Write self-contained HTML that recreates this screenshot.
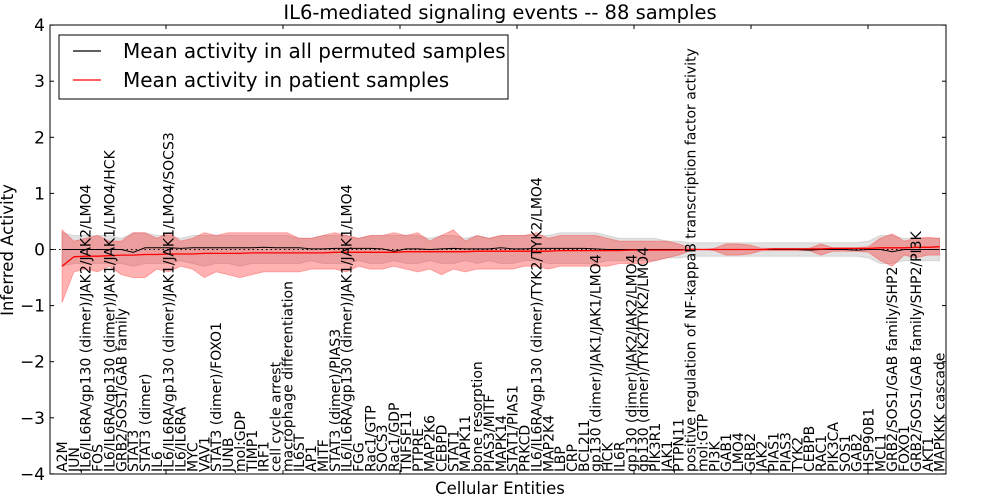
<!DOCTYPE html>
<html><head><meta charset="utf-8">
<style>
html,body{margin:0;padding:0;background:#fff;}
svg{display:block;font-family:"DejaVu Sans","Liberation Sans",sans-serif;}
</style></head>
<body>
<svg id="chart" width="1000" height="500" viewBox="0 0 1000 500" xmlns="http://www.w3.org/2000/svg">
<rect x="0" y="0" width="1000" height="500" fill="#fff"/>
<text x="500" y="19" font-size="19.5" text-anchor="middle">IL6-mediated signaling events -- 88 samples</text>
<g id="bands"></g>
<g id="lines"></g>
<g id="xlabels"></g>
<g id="ticks"></g>
<rect x="50" y="25" width="896" height="449" fill="none" stroke="#000" stroke-width="1"/>
<text transform="translate(13,250) rotate(-90)" font-size="16.5" text-anchor="middle">Inferred Activity</text>
<text x="500" y="494" font-size="16.5" text-anchor="middle">Cellular Entities</text>
<g>
<rect x="59" y="35" width="449" height="64" fill="#fff" stroke="#000" stroke-width="1"/>
<line x1="73" y1="51" x2="101" y2="51" stroke="#000" stroke-width="1.3"/>
<text x="123" y="58" font-size="20">Mean activity in all permuted samples</text>
<line x1="73" y1="80" x2="101" y2="80" stroke="#f00" stroke-width="1.3"/>
<text x="123" y="87" font-size="20">Mean activity in patient samples</text>
</g>
</svg>
<script>
const categories = ["A2M","JUN","IL6/IL6RA/gp130 (dimer)/JAK2/JAK2/LMO4","FOS","IL6/IL6RA/gp130 (dimer)/JAK1/JAK1/LMO4/HCK","GRB2/SOS1/GAB family","STAT3","STAT3 (dimer)","IL6","IL6/IL6RA/gp130 (dimer)/JAK1/JAK1/LMO4/SOCS3","IL6/IL6RA","MYC","VAV1","STAT3 (dimer)/FOXO1","JUNB","mol:GDP","TIMP1","IRF1","cell cycle arrest","macrophage differentiation","IL6ST","AP1","MITF","STAT3 (dimer)/PIAS3","IL6/IL6RA/gp130 (dimer)/JAK1/JAK1/LMO4","FGG","Rac1/GTP","SOCS3","Rac1/GDP","TNFSF11","PTPRE","MAP2K6","CEBPD","STAT1","MAPK11","bone resorption","PIAS3/MITF","MAPK14","STAT1/PIAS1","PRKCD","IL6/IL6RA/gp130 (dimer)/TYK2/TYK2/LMO4","MAP2K4","LBP","CRP","BCL2L1","gp130 (dimer)/JAK1/JAK1/LMO4","HCK","IL6R","gp130 (dimer)/JAK2/JAK2/LMO4","gp130 (dimer)/TYK2/TYK2/LMO4","PIK3R1","JAK1","PTPN11","positive regulation of NF-kappaB transcription factor activity","mol:GTP","PI3K","GAB1","LMO4","GRB2","JAK2","PIAS1","PIAS3","TYK2","CEBPB","RAC1","PIK3CA","SOS1","GAB2","HSP90B1","MCL1","GRB2/SOS1/GAB family/SHP2","FOXO1","GRB2/SOS1/GAB family/SHP2/PI3K","AKT1","MAPKKK cascade"];
const patientMean = [-0.3,-0.13,-0.12,-0.12,-0.11,-0.1,-0.1,-0.09,-0.09,-0.08,-0.08,-0.08,-0.07,-0.07,-0.07,-0.07,-0.06,-0.06,-0.06,-0.06,-0.06,-0.06,-0.06,-0.05,-0.05,-0.05,-0.05,-0.05,-0.05,-0.04,-0.04,-0.04,-0.04,-0.04,-0.04,-0.03,-0.03,-0.03,-0.03,-0.03,-0.03,-0.03,-0.02,-0.02,-0.02,-0.02,-0.02,-0.02,-0.01,-0.01,-0.01,-0.01,-0.01,0,0,0,0,0,0,0,0.01,0.01,0.01,0.01,0.01,0.02,0.02,0.02,0.02,0.03,0.03,0.03,0.04,0.04,0.05];
const patientUpper = [0.35,0.15,0.2,0.25,0.15,0.15,0.3,0.3,0.2,0.3,0.15,0.2,0.3,0.25,0.3,0.3,0.3,0.3,0.3,0.3,0.2,0.2,0.25,0.3,0.25,0.2,0.25,0.25,0.3,0.25,0.3,0.15,0.25,0.35,0.15,0.25,0.2,0.25,0.25,0.25,0.3,0.2,0.25,0.25,0.25,0.25,0.2,0.15,0.15,0.15,0.15,0.15,0.1,0.02,0,0.02,0.1,0.1,0.08,0.02,0.02,0.02,0.02,0.02,0.1,0.03,0.03,0.03,0.05,0.2,0.28,0.15,0.2,0.22,0.2];
const patientLower = [-0.95,-0.4,-0.35,-0.4,-0.3,-0.45,-0.5,-0.5,-0.35,-0.4,-0.3,-0.35,-0.5,-0.4,-0.45,-0.5,-0.45,-0.4,-0.4,-0.4,-0.4,-0.35,-0.35,-0.35,-0.4,-0.3,-0.35,-0.35,-0.3,-0.35,-0.4,-0.35,-0.45,-0.35,-0.4,-0.35,-0.35,-0.35,-0.35,-0.3,-0.3,-0.35,-0.3,-0.3,-0.3,-0.3,-0.3,-0.25,-0.25,-0.25,-0.2,-0.15,-0.1,-0.02,0,-0.02,-0.1,-0.1,-0.08,-0.02,-0.02,-0.02,-0.02,-0.02,-0.1,-0.03,-0.03,-0.03,-0.05,-0.2,-0.3,-0.1,-0.15,-0.1,-0.1];
const permutedMean = [0,0,0,0,0,0,-0.05,0.03,0.03,0.03,0.02,0.03,0.03,0.03,0.03,0.03,0.03,0.04,0.03,0.03,0.03,0.01,0.01,0.02,0.02,0.02,0.02,0.01,-0.03,0.01,0.01,0,0.01,0.02,0.01,0.01,0.01,0.03,0.01,0.01,0.02,0.02,0.02,0.02,0.02,0.01,0,0,0,0,0,0,0,0,0,0,0,0,0,0,0,0,0,-0.01,0,0,0,-0.01,0,0,-0.04,0,0,0,0];
const permutedUpper = [0.3,0.25,0.25,0.25,0.25,0.2,0.3,0.3,0.25,0.25,0.2,0.25,0.25,0.25,0.25,0.25,0.25,0.25,0.25,0.25,0.2,0.2,0.25,0.25,0.25,0.2,0.25,0.25,0.25,0.25,0.25,0.2,0.25,0.25,0.2,0.25,0.2,0.25,0.25,0.25,0.25,0.25,0.3,0.3,0.3,0.3,0.25,0.2,0.2,0.2,0.2,0.15,0.15,0.12,0.12,0.12,0.12,0.12,0.12,0.12,0.12,0.12,0.12,0.12,0.12,0.12,0.12,0.12,0.15,0.25,0.25,0.2,0.2,0.2,0.2];
const permutedLower = [-0.3,-0.25,-0.25,-0.25,-0.25,-0.25,-0.3,-0.25,-0.25,-0.25,-0.2,-0.25,-0.3,-0.25,-0.25,-0.3,-0.25,-0.25,-0.25,-0.25,-0.25,-0.2,-0.25,-0.25,-0.25,-0.2,-0.25,-0.25,-0.2,-0.25,-0.25,-0.2,-0.25,-0.25,-0.2,-0.25,-0.2,-0.25,-0.25,-0.2,-0.2,-0.25,-0.25,-0.25,-0.25,-0.25,-0.2,-0.2,-0.2,-0.2,-0.2,-0.15,-0.15,-0.12,-0.12,-0.12,-0.12,-0.12,-0.12,-0.12,-0.12,-0.12,-0.12,-0.12,-0.12,-0.12,-0.12,-0.12,-0.15,-0.25,-0.25,-0.2,-0.2,-0.2,-0.2];
const yTicks = [-4,-3,-2,-1,0,1,2,3,4];

const NS = "http://www.w3.org/2000/svg";
const X0 = 62, DX = 11.86;
const xPos = i => X0 + i * DX;
const yPos = v => 249.5 - v * 56.1;
function mk(tag, attrs, parent){ const e=document.createElementNS(NS,tag); for(const k in attrs) e.setAttribute(k,attrs[k]); parent.appendChild(e); return e; }
function bandPath(up, lo){
  let d = up.map((v,i)=>(i?"L":"M")+xPos(i).toFixed(1)+","+yPos(v).toFixed(1)).join("");
  for(let i=lo.length-1;i>=0;i--) d += "L"+xPos(i).toFixed(1)+","+yPos(lo[i]).toFixed(1);
  return d+"Z";
}
function linePath(arr){ return arr.map((v,i)=>(i?"L":"M")+xPos(i).toFixed(1)+","+yPos(v).toFixed(1)).join(""); }

const bands = document.getElementById('bands');
const gb = mk('path',{d:bandPath(permutedUpper,permutedLower),fill:'#a0a0a0','fill-opacity':'0.3',stroke:'#a0a0a0','stroke-opacity':'0.3'},bands);


const rb = mk('path',{d:bandPath(patientUpper,patientLower),fill:'#ff0000','fill-opacity':'0.3',stroke:'#ff0000','stroke-opacity':'0.25'},bands);



const lines = document.getElementById('lines');
const zl = mk('line',{x1:50,x2:946,y1:yPos(0),y2:yPos(0),stroke:'#000','stroke-width':1,'stroke-dasharray':'1.5,3'},lines);


const bl = mk('path',{d:linePath(permutedMean),fill:'none',stroke:'#000','stroke-width':1},lines);


const rl = mk('path',{d:linePath(patientMean),fill:'none',stroke:'#f00','stroke-width':1.3},lines);



const xl = document.getElementById('xlabels');
categories.forEach((c,i)=>{
  const x = xPos(i)+5, y = 472;
  const t = mk('text',{x:x,y:y,transform:`rotate(-90 ${x} ${y})`,'font-size':14},xl);
  t.textContent = c;
  
  
});

const tk = document.getElementById('ticks');
yTicks.forEach(v=>{
  const y = yPos(v);
  mk('line',{x1:50,x2:54,y1:y,y2:y,stroke:'#000'},tk);
  mk('line',{x1:942,x2:946,y1:y,y2:y,stroke:'#000'},tk);
  const t = mk('text',{x:45,y:y+6,'font-size':17,'text-anchor':'end'},tk);
  t.textContent = v<0 ? "\u2212"+Math.abs(v) : String(v);
  
  
});
for(let k=1;k<=7;k++){
  const x = 49 + k*117;
  mk('line',{x1:x,x2:x,y1:25,y2:29,stroke:'#000'},tk);
  mk('line',{x1:x,x2:x,y1:470,y2:474,stroke:'#000'},tk);
}
</script>
</body></html>
